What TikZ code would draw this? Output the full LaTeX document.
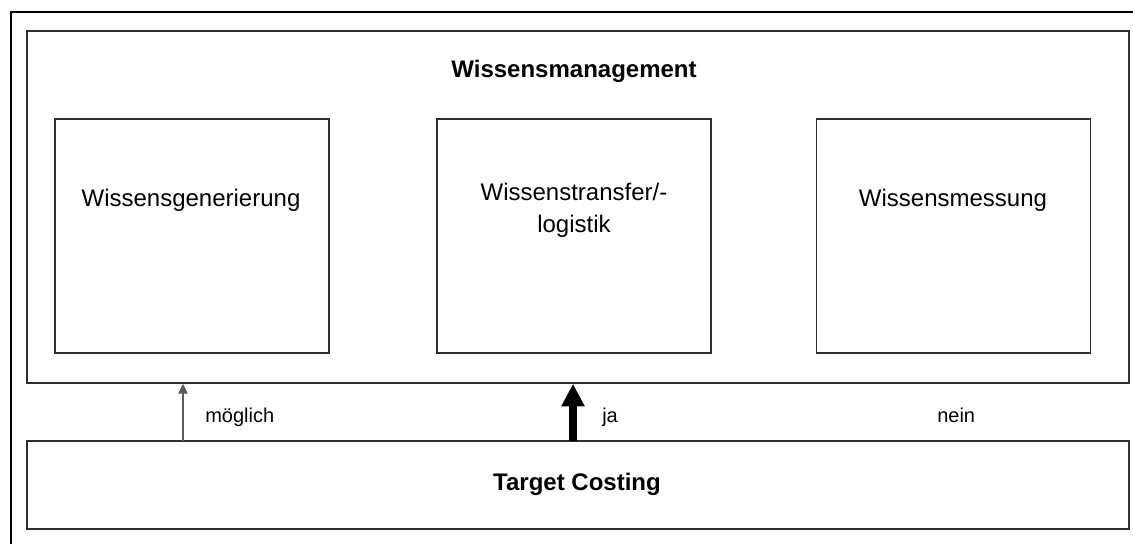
\documentclass[tikz,border=0pt]{standalone}
\usepackage{fontspec}
\setmainfont{Liberation Sans}
\usetikzlibrary{arrows.meta}
\definecolor{boxline}{HTML}{303030}
\definecolor{thinarrow}{HTML}{5A5A5A}
\begin{document}
\begin{tikzpicture}[x=0.75pt, y=-0.75pt,
  box/.style={draw=boxline, line width=1.1pt, fill=none, inner sep=0pt},
  inbox/.style={box, minimum width=205.5pt, minimum height=175.5pt},
  wide/.style={box, minimum width=826.5pt},
  bodytext/.style={inner sep=0pt, anchor=base, align=center,
    font=\fontsize{18pt}{24pt}\selectfont},
  headtext/.style={bodytext, font=\fontsize{18pt}{24pt}\selectfont\bfseries},
  lbl/.style={inner sep=0pt, anchor=base west, font=\fontsize{15pt}{18pt}\selectfont},
  weak/.style={draw=thinarrow, line width=0.8pt, -{Triangle[width=7pt, length=7.5pt]}},
  strong/.style={draw=black, line width=6pt, -{Triangle[width=16.5pt 0, length=17pt 0]}}]
  \useasboundingbox (0,0) rectangle (1133,544);

  % page frame (top and left edges)
  \draw[line width=1.6pt] (11,544) -- (11,12) -- (1133,12);

  % knowledge management block with its three fields
  \node[wide, minimum height=264pt] (wm) at (578,207) {};
  \node[headtext] (wmt) at (574,77) {Wissensmanagement};

  \node[inbox] (gen) at (192,236) {};
  \node[bodytext] (gent) at (191,206) {Wissensgenerierung};

  \node[inbox] (trans) at (574,236) {};
  \node[bodytext] (transt) at (574,232) {Wissenstransfer/-\\logistik};

  \node[inbox] (mess) at (953.5,236) {};
  \node[bodytext] (messt) at (953,206) {Wissensmessung};

  % target costing block
  \node[wide, minimum height=66pt] (tc) at (578,485) {};
  \node[headtext] (tct) at (577,490) {Target Costing};

  % links between the blocks
  \coordinate (am) at (183,441);
  \coordinate (aj) at (573,441);
  \draw[weak] (am) -- (am |- wm.south);
  \draw[strong] (aj) -- (aj |- wm.south);

  \node[lbl] (lm) at (205,422) {möglich};
  \node[lbl] (lj) at (602,422) {ja};
  \node[lbl] (ln) at (937,422) {nein};
\end{tikzpicture}
\end{document}
